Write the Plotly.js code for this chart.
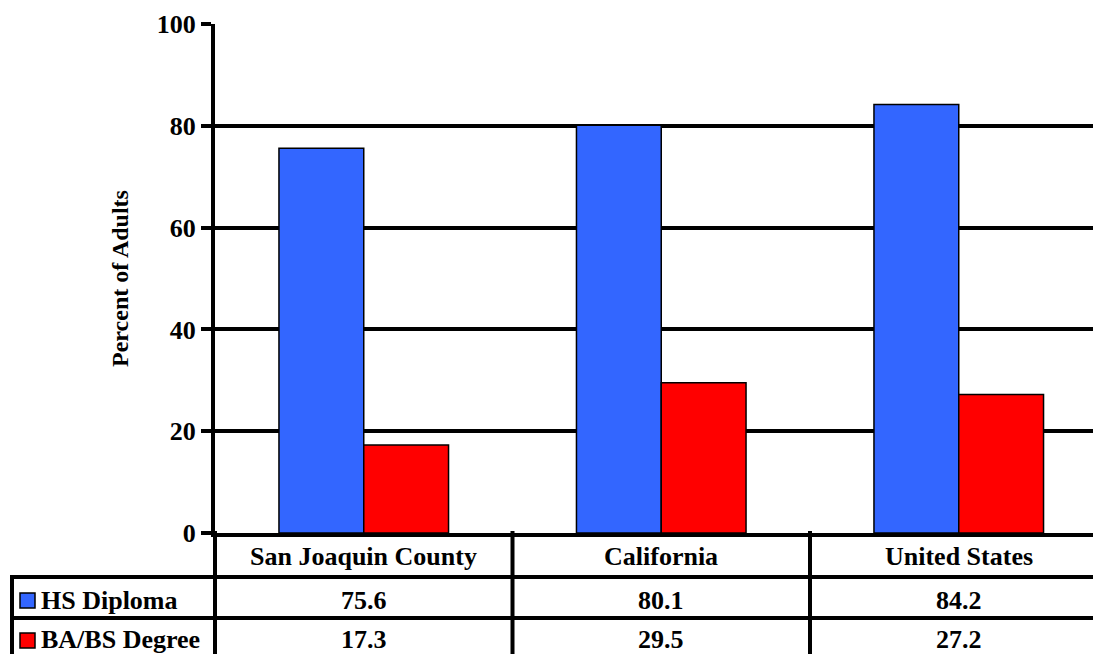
<!DOCTYPE html>
<html>
<head>
<meta charset="utf-8">
<script src="https://cdn.plot.ly/plotly-3.0.1.min.js"></script>
<style>html,body{margin:0;padding:0;background:#fff;}#chart{width:1093px;height:654px;}</style>
</head>
<body>
<div id="chart"></div>
<script>
const categories = ['San Joaquin County', 'California', 'United States'];
const seriesNames = ['HS Diploma', 'BA/BS Degree'];
const hsDiploma = [75.6, 80.1, 84.2];
const baDegree = [17.3, 29.5, 27.2];
const yTickValues = [0, 20, 40, 60, 80, 100];
const seriesColors = ['#3366FF', '#FF0000'];

const W = 1093, H = 654;
const mL = 215, mR = 0, mT = 24, mB = 121;
const plotW = W - mL - mR, plotH = H - mT - mB;
const px = p => (p - mL) / plotW;      // pixel x -> paper
const py = p => (H - mB - p) / plotH;  // pixel y -> paper

const FAMILY = 'Liberation Serif, DejaVu Serif, serif';
const font = {family: FAMILY, size: 26, color: '#000', weight: 'bold'};
const seriesData = [hsDiploma, baDegree];

const traces = seriesNames.map((name, i) => ({
  type: 'bar',
  name: name,
  x: categories,
  y: seriesData[i],
  marker: {color: seriesColors[i], line: {color: '#000', width: 1.5}},
  hoverinfo: 'skip'
}));

const lineStyle = {color: '#000', width: 4};
const shapes = [];
[577, 618].forEach(y => shapes.push({type: 'line', xref: 'paper', yref: 'paper', x0: px(10), x1: 1.02, y0: py(y), y1: py(y), line: lineStyle}));
shapes.push({type: 'line', xref: 'paper', yref: 'paper', x0: px(12), x1: px(12), y0: py(575), y1: py(680), line: lineStyle});
shapes.push({type: 'line', xref: 'paper', yref: 'paper', x0: 0, x1: 0, y0: py(531), y1: py(680), line: lineStyle});
[0.5, 1.5].forEach(x => shapes.push({type: 'line', xref: 'x', yref: 'paper', x0: x, x1: x, y0: py(531), y1: py(680), line: lineStyle}));
const rowCenters = [600, 640];
seriesNames.forEach((n, i) => {
  const c = rowCenters[i];
  shapes.push({type: 'rect', xref: 'paper', yref: 'paper', x0: px(20), x1: px(35), y0: py(c - 7), y1: py(c + 8), fillcolor: seriesColors[i], line: {color: '#000', width: 1.5}});
});

const annotations = [];
categories.forEach((c, i) => {
  annotations.push({xref: 'x', yref: 'paper', x: i, y: py(556), text: c, showarrow: false, font: font, xanchor: 'center', yanchor: 'middle'});
  seriesData.forEach((d, s) => {
    annotations.push({xref: 'x', yref: 'paper', x: i, y: py(rowCenters[s]), text: d[i].toFixed(1), showarrow: false, font: font, xanchor: 'center', yanchor: 'middle'});
  });
});
seriesNames.forEach((n, s) => {
  annotations.push({xref: 'paper', yref: 'paper', x: px(39), y: py(rowCenters[s]), text: n, showarrow: false, font: font, xanchor: 'left', yanchor: 'middle'});
});

const layout = {
  width: W, height: H,
  margin: {l: mL, r: mR, t: mT, b: mB, pad: 0},
  paper_bgcolor: '#fff', plot_bgcolor: '#fff',
  showlegend: false,
  barmode: 'group',
  bargap: 0.43,
  bargroupgap: 0,
  font: font,
  xaxis: {
    type: 'category',
    range: [-0.5, -0.5 + plotW / 297.5],
    showticklabels: false,
    ticks: '',
    showgrid: false,
    showline: true, linecolor: '#000', linewidth: 4,
    zeroline: false,
    fixedrange: true
  },
  yaxis: {
    range: [0, 100],
    tickvals: yTickValues,
    ticktext: yTickValues.map(String),
    ticks: 'outside', ticklen: 10, tickwidth: 4, tickcolor: '#000',
    showline: true, linecolor: '#000', linewidth: 4,
    showgrid: true, gridcolor: '#000', gridwidth: 4,
    zeroline: false,
    tickfont: font,
    title: {text: 'Percent of Adults', font: {family: FAMILY, size: 24, color: '#000', weight: 'bold'}, standoff: 22},
    fixedrange: true
  },
  shapes: shapes,
  annotations: annotations
};

Plotly.newPlot('chart', traces, layout, {staticPlot: true, displayModeBar: false});
</script>
</body>
</html>
